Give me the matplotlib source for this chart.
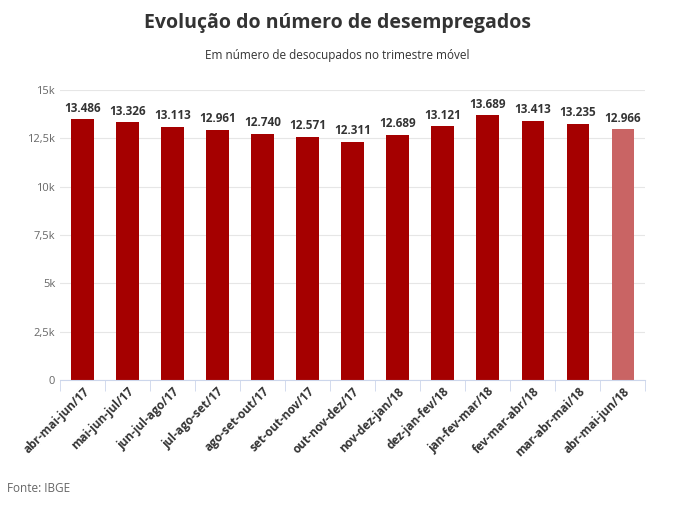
import matplotlib
matplotlib.use("Agg")
import matplotlib.pyplot as plt

periods = ["abr-mai-jun/17", "mai-jun-jul/17", "jun-jul-ago/17", "jul-ago-set/17",
           "ago-set-out/17", "set-out-nov/17", "out-nov-dez/17", "nov-dez-jan/18",
           "dez-jan-fev/18", "jan-fev-mar/18", "fev-mar-abr/18", "mar-abr-mai/18",
           "abr-mai-jun/18"]
values = [13486, 13326, 13113, 12961, 12740, 12571, 12311, 12689,
          13121, 13689, 13413, 13235, 12966]
yticks = [0, 2500, 5000, 7500, 10000, 12500, 15000]
ylabels = ["0", "2,5k", "5k", "7,5k", "10k", "12,5k", "15k"]

plt.rcParams['font.family'] = ['Open Sans', 'DejaVu Sans']
fig = plt.figure(figsize=(6.75, 5.15), dpi=100)
ax = fig.add_axes([0.089, 0.262, 0.867, 0.563])

colors = ["#a50000"] * (len(values) - 1) + ["#c96464"]
x = range(len(values))
ax.bar(x, values, width=0.5, color=colors, zorder=2)
for i, v in zip(x, values):
    ax.text(i, v + 250, f"{v/1000:.3f}", ha="center", va="bottom",
            fontsize=8.5, fontweight="bold", color="#333333")

ax.set_ylim(0, 15000)
ax.set_xlim(-0.5, len(values) - 0.5)
ax.set_yticks(yticks)
ax.set_yticklabels(ylabels, fontsize=8, color="#666666")
ax.set_xticks(list(x))
ax.set_xticklabels(periods, rotation=45, ha="right", rotation_mode="anchor",
                   fontsize=8.5, fontweight="bold", color="#333333")
ax.grid(axis="y", color="#e6e6e6", linewidth=0.8, zorder=0)
for s in ["top", "right", "left"]:
    ax.spines[s].set_visible(False)
ax.spines["bottom"].set_color("#ccd6eb")
ax.tick_params(axis="y", length=0)
ax.tick_params(axis="x", color="#ccd6eb", length=8)
ax.set_xticks([i + 0.5 for i in range(-1, len(values))], minor=True)
ax.tick_params(axis="x", which="major", length=0)
ax.tick_params(axis="x", which="minor", length=8, color="#ccd6eb")

fig.text(0.5, 0.945, "Evolução do número de desempregados", ha="center",
         fontsize=14, fontweight="bold", color="#333333")
fig.text(0.5, 0.885, "Em número de desocupados no trimestre móvel", ha="center",
         fontsize=8.5, color="#333333")
fig.text(0.01, 0.045, "Fonte: IBGE", fontsize=8.5, color="#666666")

fig.savefig("out.png", dpi=100)
